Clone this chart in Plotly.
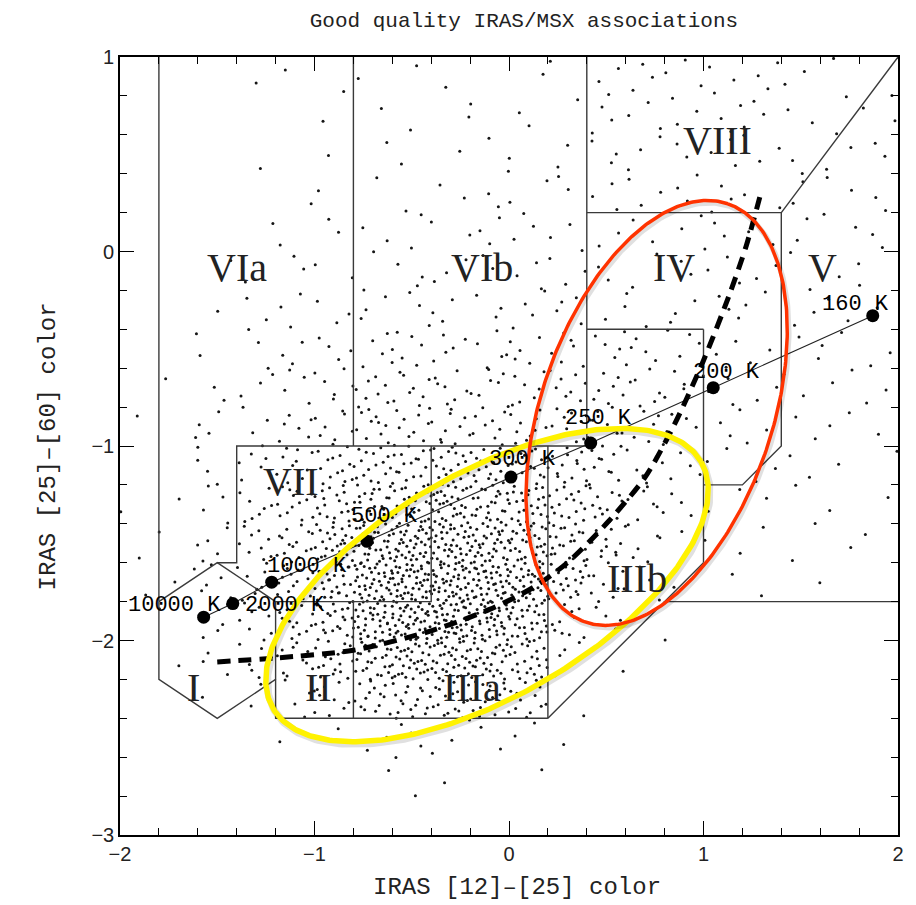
import numpy as np
import plotly.graph_objects as go

# ---- blackbody sequence ----
bb_temps = ["10000 K", "2000 K", "1000 K", "500 K", "300 K", "250 K", "200 K", "160 K"]
bb_x = [-1.57, -1.42, -1.22, -0.73, 0.01, 0.42, 1.05, 1.87]
bb_y = [-1.88, -1.81, -1.70, -1.49, -1.16, -0.985, -0.70, -0.33]
bb_lab_x = [-1.72, -1.15, -1.04, -0.64, 0.07, 0.46, 1.12, 1.78]
bb_lab_y = [-1.82, -1.82, -1.62, -1.365, -1.07, -0.86, -0.62, -0.27]

# ---- evolutionary track (thick dashed curve) ----
track_x = [-1.50, -1.20, -0.80, -0.40, -0.10, 0.12, 0.30, 0.50, 0.70, 0.85, 1.00, 1.13, 1.22, 1.30]
track_y = [-2.11, -2.09, -2.05, -1.95, -1.84, -1.73, -1.60, -1.40, -1.16, -0.89, -0.56, -0.23, 0.03, 0.32]

# ---- van der Veen & Habing region labels ----
region_names = ["I", "II", "IIIa", "IIIb", "IV", "V", "VIa", "VIb", "VII", "VIII"]
region_x = [-1.62, -0.98, -0.19, 0.66, 0.85, 1.61, -1.40, -0.14, -1.12, 1.07]
region_y = [-2.24, -2.24, -2.24, -1.68, -0.08, -0.08, -0.08, -0.08, -1.185, 0.57]

# ---- region boundaries (polylines) ----
boundaries = [
    [(-1.8, 1.0), (-1.8, -1.8)],
    [(-1.8, -1.8), (-1.5, -1.6), (-1.2, -1.8), (-1.2, -2.2), (-1.5, -2.4), (-1.8, -2.2), (-1.8, -1.8)],
    [(-1.5, -1.6), (-1.4, -1.6), (-1.4, -1.0), (0.4, -1.0)],
    [(-1.2, -1.8), (-0.4, -1.8), (-0.4, -1.0)],
    [(-0.8, 1.0), (-0.8, -1.0)],
    [(-0.8, -1.8), (-0.8, -2.4)],
    [(-1.2, -2.2), (-1.2, -2.4), (0.2, -2.4)],
    [(0.2, -1.0), (0.2, -2.4)],
    [(0.2, -2.4), (1.0, -1.6)],
    [(0.8, -1.8), (2.0, -1.8)],
    [(1.0, -0.4), (1.0, -1.6)],
    [(0.4, -0.4), (1.0, -0.4)],
    [(0.4, 1.0), (0.4, -1.0)],
    [(0.4, 0.2), (1.4, 0.2), (1.4, -1.0), (1.2, -1.2), (1.0, -1.2)],
    [(1.4, 0.2), (2.0, 1.0)],
]

# ---- source counts per 0.2 x 0.2 colour cell ----
cell_x0 = [-2.0, -1.8, -1.6, -1.4, -1.2, -1.0, -0.8, -0.6, -0.4, -0.2,
           0.0, 0.2, 0.4, 0.6, 0.8, 1.0, 1.2, 1.4, 1.6, 1.8]
cell_y0 = [0.8, 0.6, 0.4, 0.2, 0.0, -0.2, -0.4, -0.6, -0.8, -1.0,
           -1.2, -1.4, -1.6, -1.8, -2.0, -2.2, -2.4, -2.6, -2.8, -3.0]
cell_counts = [
    [0, 0, 0, 1, 1, 1, 1, 1, 1, 0, 1, 1, 3, 3, 3, 3, 3, 2, 1, 1],
    [0, 0, 0, 0, 0, 1, 1, 1, 1, 1, 2, 1, 3, 3, 3, 3, 3, 2, 2, 2],
    [0, 0, 0, 1, 0, 1, 1, 1, 1, 2, 1, 2, 3, 3, 2, 3, 3, 2, 2, 2],
    [0, 0, 0, 0, 1, 1, 1, 1, 2, 2, 2, 2, 3, 3, 3, 3, 2, 2, 2, 2],
    [0, 0, 0, 1, 1, 2, 2, 2, 2, 3, 3, 3, 2, 2, 2, 3, 2, 2, 2, 2],
    [0, 0, 1, 1, 2, 2, 2, 3, 3, 2, 3, 3, 2, 2, 2, 3, 2, 2, 2, 1],
    [0, 0, 1, 2, 3, 3, 3, 3, 3, 3, 4, 4, 2, 2, 3, 3, 2, 2, 2, 1],
    [0, 1, 1, 3, 3, 4, 5, 6, 5, 5, 5, 6, 5, 5, 4, 3, 2, 2, 2, 2],
    [0, 1, 2, 3, 4, 6, 8, 8, 7, 7, 7, 8, 7, 6, 5, 3, 2, 2, 2, 2],
    [1, 1, 3, 4, 6, 8, 10, 10, 10, 9, 10, 10, 9, 7, 5, 3, 2, 2, 2, 1],
    [0, 1, 3, 6, 10, 13, 16, 17, 18, 18, 17, 14, 10, 6, 4, 2, 2, 2, 1, 1],
    [1, 1, 4, 8, 13, 19, 24, 27, 28, 26, 24, 18, 12, 7, 3, 2, 1, 2, 1, 1],
    [1, 2, 4, 9, 15, 25, 34, 38, 38, 34, 30, 22, 13, 6, 2, 2, 1, 1, 1, 1],
    [1, 2, 5, 9, 15, 26, 40, 46, 44, 40, 34, 20, 10, 3, 1, 1, 1, 1, 0, 0],
    [0, 1, 5, 8, 13, 22, 36, 44, 44, 38, 30, 10, 4, 1, 1, 0, 0, 0, 0, 0],
    [0, 1, 3, 6, 10, 17, 26, 32, 32, 28, 22, 5, 1, 0, 0, 0, 0, 0, 0, 0],
    [0, 0, 1, 2, 5, 9, 14, 18, 18, 16, 12, 1, 0, 0, 0, 0, 0, 0, 0, 0],
    [0, 0, 0, 0, 1, 1, 2, 3, 3, 2, 2, 1, 0, 0, 0, 0, 0, 0, 0, 0],
    [0, 0, 0, 0, 0, 0, 1, 2, 1, 0, 1, 0, 0, 0, 0, 0, 0, 0, 0, 0],
    [0] * 20,
]
cell_size = 0.2

# ---- highlighted groups (ellipses): centre, semi-axes, tilt in degrees ----
ellipses = [
    dict(cx=-0.113, cy=-1.715, a=1.27, b=0.575, ang=29.9, color="#FFF200", width=5.5),
    dict(cx=0.759, cy=-0.830, a=1.136, b=0.595, ang=71.2, color="#FF3300", width=3.5),
]


def halton(i, base):
    f, r = 1.0, 0.0
    while i > 0:
        f /= base
        r += f * (i % base)
        i //= base
    return r


# spread each cell's count over the cell on a Halton lattice
src_x, src_y = [], []
k = 1
for r, y0 in enumerate(cell_y0):
    for c, x0 in enumerate(cell_x0):
        for _ in range(cell_counts[r][c]):
            src_x.append(x0 + cell_size * halton(k, 2))
            src_y.append(y0 + cell_size * halton(k, 3))
            k += 1

fig = go.Figure()

fig.add_trace(go.Scatter(
    x=src_x, y=src_y, mode="markers",
    marker=dict(size=3.0, color="#151515", line=dict(width=0)),
    hoverinfo="skip", showlegend=False))

for seg in boundaries:
    fig.add_trace(go.Scatter(
        x=[p[0] for p in seg], y=[p[1] for p in seg], mode="lines",
        line=dict(color="#3a3a3a", width=1.4), hoverinfo="skip", showlegend=False))

fig.add_trace(go.Scatter(
    x=bb_x, y=bb_y, mode="lines+markers",
    line=dict(color="#222", width=1.1),
    marker=dict(size=13, color="black"),
    showlegend=False))

fig.add_trace(go.Scatter(
    x=track_x, y=track_y, mode="lines",
    line=dict(color="black", width=5, dash="13px,8px", shape="spline", smoothing=0.8),
    showlegend=False))

t = np.linspace(0, 2 * np.pi, 361)
for e in ellipses:
    th = np.deg2rad(e["ang"])
    ex = e["cx"] + e["a"] * np.cos(t) * np.cos(th) - e["b"] * np.sin(t) * np.sin(th)
    ey = e["cy"] + e["a"] * np.cos(t) * np.sin(th) + e["b"] * np.sin(t) * np.cos(th)
    # soft drop shadow under the outline
    fig.add_trace(go.Scatter(
        x=ex + 0.008, y=ey - 0.012, mode="lines",
        line=dict(color="rgba(0,0,0,0.12)", width=e["width"] + 2),
        hoverinfo="skip", showlegend=False))
    fig.add_trace(go.Scatter(
        x=ex, y=ey, mode="lines",
        line=dict(color=e["color"], width=e["width"]),
        hoverinfo="skip", showlegend=False))

annotations = []
for name, x, y in zip(region_names, region_x, region_y):
    annotations.append(dict(
        x=x, y=y, xref="x", yref="y", text=name, showarrow=False,
        font=dict(family="Liberation Serif", size=40, color="#222")))

for lab, x, y in zip(bb_temps, bb_lab_x, bb_lab_y):
    annotations.append(dict(
        x=x, y=y, xref="x", yref="y", text=lab, showarrow=False,
        font=dict(family="Liberation Mono", size=22, color="black")))

annotations.append(dict(
    x=0.51, y=-0.068, xref="paper", yref="paper", xanchor="center", yanchor="middle",
    text="IRAS [12]–[25] color", showarrow=False,
    font=dict(family="Liberation Mono", size=24, color="#222")))
annotations.append(dict(
    x=-0.092, y=0.5, xref="paper", yref="paper", xanchor="center", yanchor="middle",
    text="IRAS [25]–[60] color", textangle=-90, showarrow=False,
    font=dict(family="Liberation Mono", size=24, color="#222")))

axis_common = dict(
    showline=True, linecolor="black", linewidth=1.6, mirror="allticks",
    ticks="inside", ticklen=14, tickwidth=1.3, tickcolor="black",
    showgrid=False, zeroline=False, dtick=1,
    tickfont=dict(family="Liberation Sans", size=20, color="#222"),
    minor=dict(dtick=0.2, ticks="inside", ticklen=7, tickwidth=1.1,
               tickcolor="black", showgrid=False),
)

xaxis = dict(axis_common)
xaxis.update(range=[-2, 2], tick0=-2)
yaxis = dict(axis_common)
yaxis.update(range=[-3, 1], tick0=-3)

fig.update_layout(
    width=916, height=905,
    margin=dict(l=120, r=16, t=57, b=70),
    paper_bgcolor="white", plot_bgcolor="white",
    title=dict(text="Good quality IRAS/MSX associations", xref="container", x=0.572,
               xanchor="center", y=0.978, yanchor="middle",
               font=dict(family="Liberation Mono", size=21, color="#222")),
    xaxis=xaxis, yaxis=yaxis,
    annotations=annotations,
)

fig.write_html("out.html")
